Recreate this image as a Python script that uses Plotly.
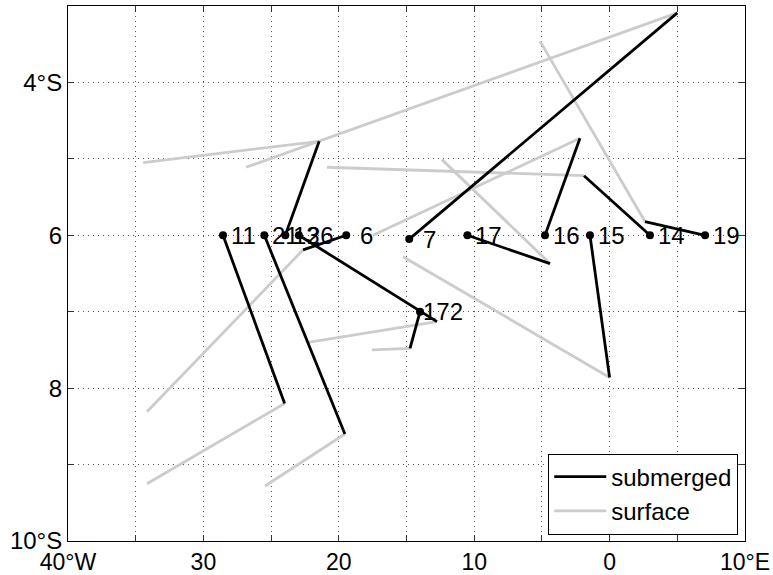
import plotly.graph_objects as go

# ---- data (longitude in degrees E, latitude in degrees N; south negative) ----
float_ids = ["11", "21", "13", "26", "6", "7", "172", "17", "16", "15", "14", "19"]
deploy_lon = [-28.55, -25.50, -23.95, -22.95, -19.45, -14.80, -14.00, -10.50, -4.77, -1.45, 2.98, 7.05]
deploy_lat = [-6.00, -6.00, -6.00, -6.00, -6.00, -6.05, -7.00, -6.00, -6.00, -6.00, -6.00, -6.00]
# first surfacing position (end of submerged leg)
surf_lon = [-24.00, -19.55, -21.45, -12.75, -22.64, 5.00, -14.74, -4.40, -2.19, 0.00, -1.89, 2.61]
surf_lat = [-8.20, -8.60, -4.77, -7.13, -6.19, -3.09, -7.48, -6.37, -4.73, -7.86, -5.22, -5.82]
# surface drift after surfacing (further positions)
drift_lon = [[-34.17], [-25.45], [-34.45], [-22.27], [-34.17], [-21.45, -26.85],
             [-17.55], [-12.38], [-17.47], [-15.26], [-20.87], [-5.14]]
drift_lat = [[-9.25], [-9.28], [-5.05], [-7.40], [-8.31], [-4.77, -5.11],
             [-7.50], [-5.01], [-6.00], [-6.28], [-5.11], [-3.46]]

x_ticks = [-40, -35, -30, -25, -20, -15, -10, -5, 0, 5, 10]
x_text = ["40°W", "", "30", "", "20", "", "10", "", "0", "", "10°E"]
y_ticks = [-10, -9, -8, -7, -6, -5, -4]
y_text = ["10°S", "", "8", "", "6", "", "4°S"]

FONT = "Liberation Sans, Arial, Helvetica, sans-serif"
FS = 24

# build polylines
sub_x, sub_y, srf_x, srf_y = [], [], [], []
for i in range(len(float_ids)):
    sub_x += [deploy_lon[i], surf_lon[i], None]
    sub_y += [deploy_lat[i], surf_lat[i], None]
    srf_x += [surf_lon[i]] + drift_lon[i] + [None]
    srf_y += [surf_lat[i]] + drift_lat[i] + [None]

fig = go.Figure()
fig.add_trace(go.Scatter(x=srf_x, y=srf_y, mode="lines", name="surface",
                         line=dict(color="#cccccc", width=2.8), hoverinfo="skip"))
fig.add_trace(go.Scatter(x=sub_x, y=sub_y, mode="lines", name="submerged",
                         line=dict(color="black", width=2.8), hoverinfo="skip"))
fig.add_trace(go.Scatter(x=deploy_lon, y=deploy_lat, mode="markers", showlegend=False,
                         marker=dict(color="black", size=8), hoverinfo="skip"))

for fid, lo, la in zip(float_ids, deploy_lon, deploy_lat):
    shift = 12 if len(fid) == 1 else (1 if len(fid) == 3 else 6)
    fig.add_annotation(x=lo, y=la, text=fid, showarrow=False, xanchor="left",
                       yanchor="middle", xshift=shift,
                       font=dict(family=FONT, size=FS, color="black"))

axis_common = dict(showline=True, linecolor="black", linewidth=1, mirror="ticks",
                   ticks="inside", ticklen=6, tickcolor="#333333", tickwidth=1,
                   showgrid=True, gridcolor="#555555", gridwidth=1, griddash="1px,4px",
                   zeroline=False, automargin=False)

fig.update_xaxes(range=[-40, 10], tickmode="array", tickvals=x_ticks, ticktext=x_text,
                 ticklabelstandoff=0, tickfont=dict(family=FONT, size=23, color="black"),
                 **axis_common)
fig.update_yaxes(range=[-10, -3], tickmode="array", tickvals=y_ticks, ticktext=y_text,
                 tickfont=dict(family=FONT, size=FS, color="black"), **axis_common)

fig.update_layout(
    width=773, height=575,
    margin=dict(l=68, r=28, t=6, b=34),
    paper_bgcolor="white", plot_bgcolor="white",
    font=dict(family=FONT, size=FS, color="black"),
    legend=dict(x=0.99, y=0.012, xanchor="right", yanchor="bottom",
                bgcolor="white", bordercolor="black", borderwidth=1,
                itemwidth=52, tracegroupgap=0,
                font=dict(family=FONT, size=FS), traceorder="reversed"),
    showlegend=True,
)

fig.write_html("out.html")
